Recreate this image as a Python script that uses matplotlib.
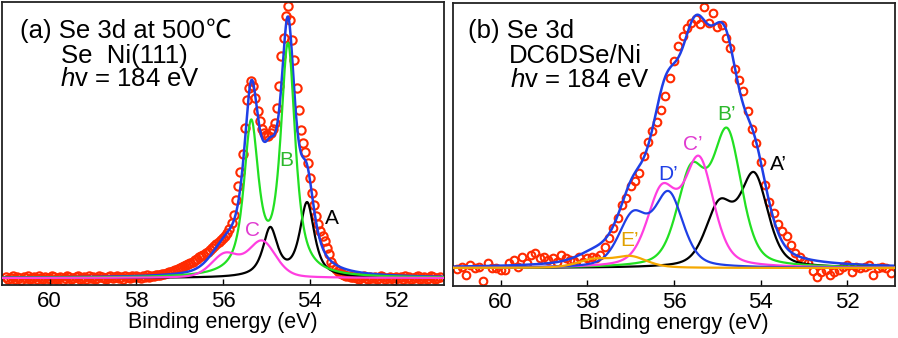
import numpy as np
import matplotlib
matplotlib.use('Agg')
import matplotlib.pyplot as plt

plt.rcParams['font.family'] = ['Liberation Sans', 'Noto Sans CJK SC', 'DejaVu Sans']
plt.rcParams['mathtext.fontset'] = 'custom'
plt.rcParams['mathtext.rm'] = 'Liberation Sans'
plt.rcParams['mathtext.it'] = 'Liberation Sans:italic'

# ---- (a) Se 3d at 500 C, Se/Ni(111): 0.05 eV steps, 61.00 -> 51.00 eV
energy_a = np.round(np.arange(61.0, 50.99, -0.05), 2)
counts_a = [
    1, -1, 0, 2, -1, 1, 0, -2, 1, 0, 2, -1, 0, 1, -1, 2, 0, -1, 1, 0,
    -1, 2, 1, -1, 0, 1, -2, 0, 2, 1, -1, 0, 1, 2, -1, 0, 1, -1, 2, 0,
    1, -1, 0, 2, 1, 0, -1, 1, 2, 0, 1, 2, 0, 1, -1, 2, 1, 0, 2, 1,
    2, 1, 0, 2, 1, 3, 1, 2, 2, 3,
    3, 3, 4, 4, 5, 6, 6, 7, 8, 9,
    10, 11, 12, 13, 14, 15, 16, 18, 19, 21,
    22, 23, 25, 26, 28, 30, 32, 34, 36, 38,
    40, 42, 45, 49, 55, 63, 78, 92, 106, 124,
    150, 178, 190, 197, 192, 180, 167, 157, 149, 145,
    143, 142, 145, 149, 155, 170, 192, 222, 240, 262,
    272, 258, 238, 218, 190, 168, 148, 135, 126, 115,
    100, 85, 73, 62, 54, 47, 42, 37, 30, 24,
    16, 12, 9, 7, 5, 4, 3, 2, 2, 1,
    1,
    1, 0, -1, 1, 2, 0, -1, 1, 0, 1, -1, 0, 2, 1, -1, 0, 1, 0, -2, 1,
    0, 1, -1, 2, 0, 1, -1, 0, 1, 2, -1, 0, 1, -1, 0, 2, 1, -1, 0, 1,
]

# fitted 3d5/2 - 3d3/2 doublets
a_names = ['A', 'B', 'C']
a_pos = [[54.06, 54.91], [54.50, 55.35], [55.10, 55.95]]
a_amp = [[74, 48], [229, 149], [36, 23]]
a_fwhm = [0.40, 0.40, 0.75]
a_eta = [0.8, 0.8, 0.3]
a_colors = ['black', '#22e022', '#ff3ee0']
a_label_xy = [(53.49, 60), (54.53, 117), (55.33, 48)]
a_label_colors = ['black', '#2cb82c', '#e03ad0']

# ---- (b) Se 3d, DC6DSe/Ni: 0.1 eV steps, 61.0 -> 51.0 eV
energy_b = np.round(np.arange(61.0, 50.99, -0.1), 1)
counts_b = [
    -1, 1, -7, 3, 0, 1, -13, 5, 0, 0,
    -2, -2, 5, 8, 1, 11, 5, 13, 15, 10,
    11, 8, 10, 6, 13, 10, 8, 7, 11, 6,
    10, 11, 10, 13, 21, 30, 40, 50, 63, 70,
    82, 87, 95, 112, 126, 137, 146, 158, 172, 190,
    207, 222, 232, 240, 245, 249, 244, 261, 245, 255,
    241, 243, 230, 220, 199, 188, 177, 157, 139, 125,
    106, 83, 66, 55, 44, 37, 32, 23, 15, 11,
    7, 5, -3, -9, -4, -2, -7, -4, -2, 1,
    3, -4, 1, 0, 1, 3, -7, 0, 1, 0,
    -5,
]

b_names = ['A\u2019', 'B\u2019', 'C\u2019', 'D\u2019', 'E\u2019']
b_pos = [[54.15, 54.95], [54.77, 55.60], [55.42, 56.28], [56.12, 56.95], [57.00, 57.85]]
b_amp = [[90, 60], [131, 92], [105, 74], [72, 50], [11, 8]]
b_fwhm = [0.75, 0.78, 0.80, 0.78, 0.9]
b_eta = [0.4, 0.4, 0.4, 0.4, 0.4]
b_colors = ['black', '#22e022', '#ff3ee0', '#1f3fe6', '#f5a800']
b_label_xy = [(53.58, 103), (54.78, 153), (55.57, 123), (56.13, 94), (57.03, 27)]
b_label_colors = ['black', '#2cb82c', '#e03ad0', '#1f3fe6', '#e0a000']

TOTAL_COLOR = '#1f3fe6'
DATA_COLOR = '#ff2a00'


def pseudo_voigt(e, c, h, w, eta):
    x = (e - c) / w
    return h * (eta / (1 + 4 * x ** 2) + (1 - eta) * np.exp(-4 * np.log(2) * x ** 2))


def doublet(e, pos, amp, w, eta):
    return sum(pseudo_voigt(e, c, h, w, eta) for c, h in zip(pos, amp))


def style_axis(ax, ylim):
    ax.set_xlim(61.1, 50.9)
    ax.set_ylim(*ylim)
    ax.set_xticks([60, 58, 56, 54, 52])
    ax.set_yticks([])
    ax.tick_params(axis='x', direction='in', length=4, width=1, labelsize=16,
                   pad=4, top=False)
    for s in ax.spines.values():
        s.set_linewidth(1.3)
        s.set_color('#222222')
    ax.set_xlabel('Binding energy (eV)', fontsize=15.5, labelpad=0)


fig = plt.figure(figsize=(8.98, 3.38), dpi=100)
W, H = 898, 338

ax_a = fig.add_axes([2 / W, 1 - 285 / H, 442 / W, 283 / H])
ax_b = fig.add_axes([453 / W, 1 - 286 / H, 442 / W, 283 / H])

e_fit = np.linspace(61.1, 50.9, 800)

# panel (a)
ax_a.plot(energy_a, counts_a, 'o', mfc='none', mec=DATA_COLOR, ms=6, mew=1.5, zorder=1)
comps_a = [doublet(e_fit, p, a, w, et) for p, a, w, et in zip(a_pos, a_amp, a_fwhm, a_eta)]
ax_a.plot(e_fit, np.sum(comps_a, axis=0), color=TOTAL_COLOR, lw=1.8, zorder=2)
for y, c in zip(comps_a, a_colors):
    ax_a.plot(e_fit, y, color=c, lw=1.6, zorder=3)
for name, (x, y), c in zip(a_names, a_label_xy, a_label_colors):
    ax_a.text(x, y, name, color=c, fontsize=15, ha='center', va='center')
style_axis(ax_a, (-7, 276))

# panel (b)
ax_b.plot(energy_b, counts_b, 'o', mfc='none', mec=DATA_COLOR, ms=5.5, mew=1.5, zorder=1)
comps_b = [doublet(e_fit, p, a, w, et) for p, a, w, et in zip(b_pos, b_amp, b_fwhm, b_eta)]
ax_b.plot(e_fit, np.sum(comps_b, axis=0), color=TOTAL_COLOR, lw=1.8, zorder=2)
for y, c in zip(comps_b, b_colors):
    ax_b.plot(e_fit, y, color=c, lw=1.6, zorder=3)
for name, (x, y), c in zip(b_names, b_label_xy, b_label_colors):
    ax_b.text(x, y, name, color=c, fontsize=15, ha='center', va='center')
style_axis(ax_b, (-18, 265))


# sample descriptions
def header(x, y, s, **kw):
    return fig.text(x / W, 1 - y / H, s, fontsize=18.5, ha='left', va='baseline', **kw)


t = header(20, 38, '(a) Se 3d at 500')
header(61, 63, 'Se  Ni(111)')
header(60, 86, r'$h$v = 184 eV')
header(468, 38, '(b) Se 3d')
header(509, 63, 'DC6DSe/Ni')
header(510, 87, r'$h$v = 184 eV')

# degree-Celsius sign set in the CJK face, placed right after the temperature
fig.canvas.draw()
bb = t.get_window_extent()
header(bb.x1 + 1, 38, '\u2103', family=['Noto Sans CJK SC'], fontweight='light')

fig.savefig('out.png', dpi=100)
